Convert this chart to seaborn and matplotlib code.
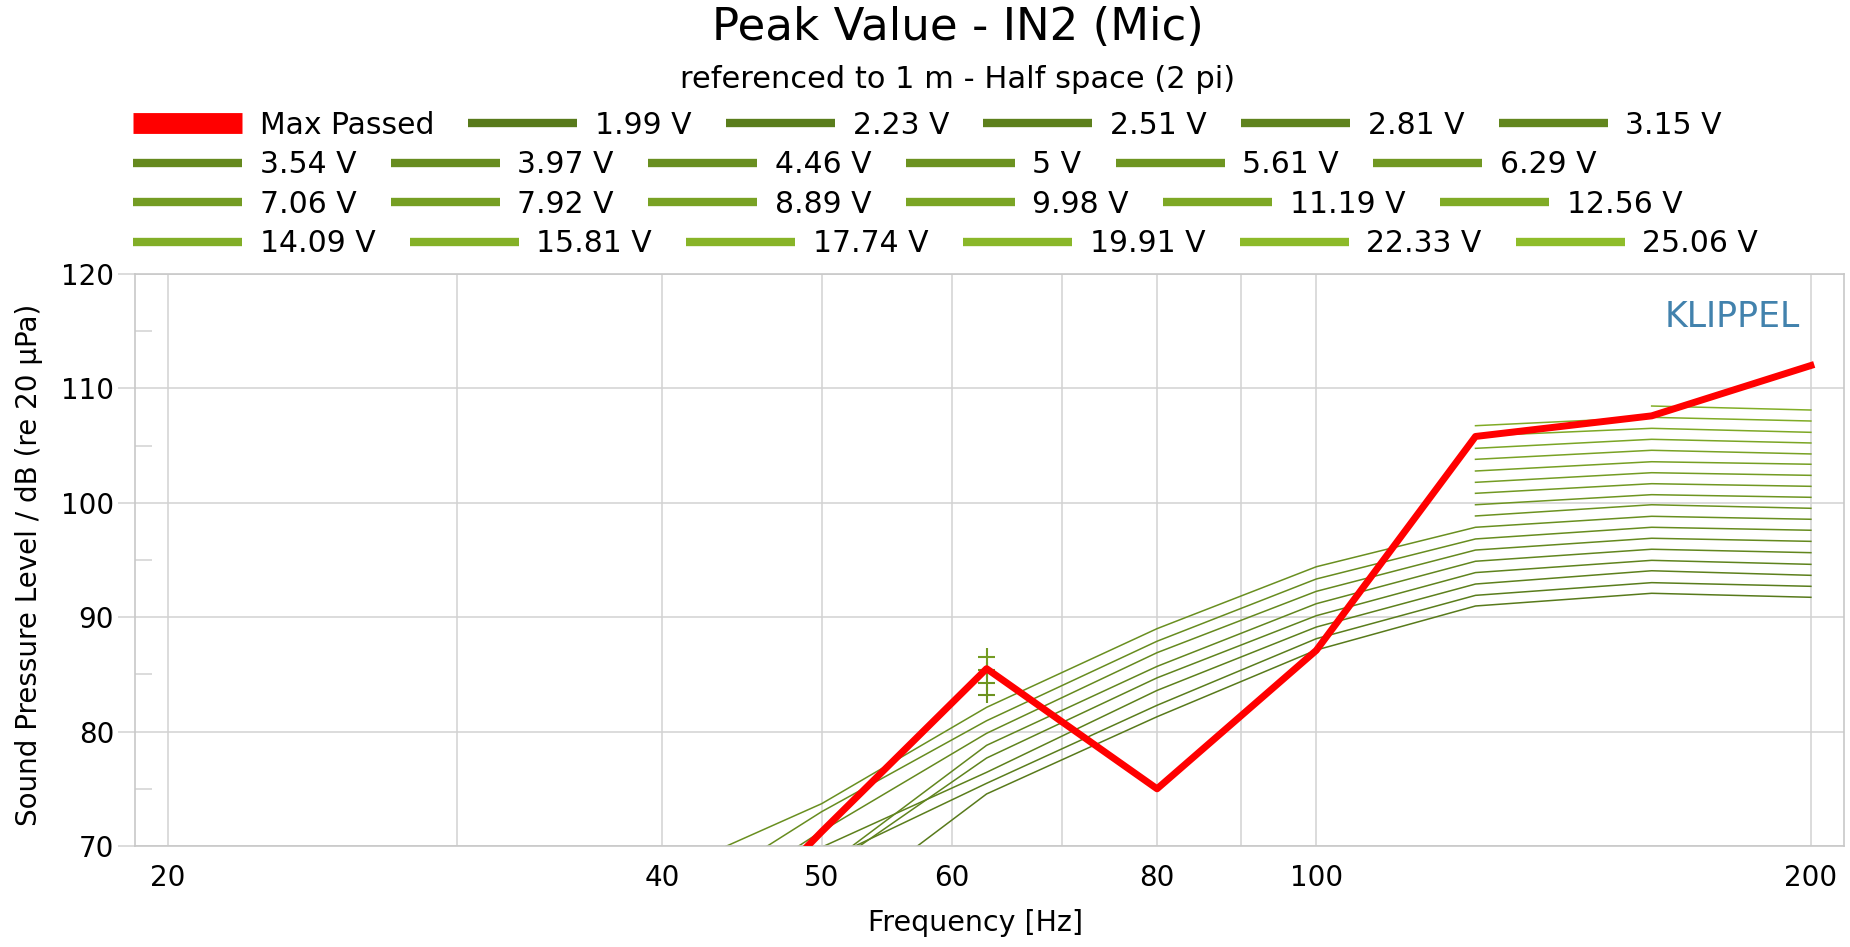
import numpy as np
import pandas as pd
import matplotlib
matplotlib.use('Agg')
import matplotlib.pyplot as plt
import seaborn as sns
from matplotlib.lines import Line2D

nan = np.nan

# 1/3 octave band centres [Hz]
freqs = [40, 50, 63, 80, 100, 125, 160, 200]

max_passed = [57.0, 71.25, 85.5, 75.0, 87.1, 105.8, 107.6, 112.0]

voltages = ['1.99', '2.23', '2.51', '2.81', '3.15', '3.54', '3.97', '4.46', '5', '5.61',
            '6.29', '7.06', '7.92', '8.89', '9.98', '11.19', '12.56', '14.09', '15.81',
            '17.74', '19.91', '22.33', '25.06']

spl_1_99 = [55.0, 63.7, 74.55, 81.3, 87.13, 90.98, 92.09, 91.74]
spl_2_23 = [56.0, 68.6, 75.48, 82.3, 88.12, 91.91, 93.02, 92.70]
spl_2_51 = [58.0, 69.9, 76.44, 83.6, 89.14, 92.90, 94.06, 93.66]
spl_2_81 = [58.0, 67.7, 77.69, 84.7, 90.13, 93.90, 94.97, 94.62]
spl_3_15 = [59.0, 68.0, 78.80, 85.7, 91.18, 94.89, 95.94, 95.64]
spl_3_54 = [62.3, 71.3, 79.85, 86.9, 92.26, 95.87, 96.90, 96.63]
spl_3_97 = [64.2, 73.0, 80.95, 87.9, 93.34, 96.84, 97.86, 97.60]
spl_4_46 = [67.5, 73.7, 82.12, 89.0, 94.41, 97.86, 98.82, 98.56]
spl_5_00 = [nan, nan, 83.20, nan, nan, 98.85, 99.83, 99.52]
spl_5_61 = [nan, nan, 84.27, nan, nan, 99.83, 100.71, 100.48]
spl_6_29 = [nan, nan, 85.38, nan, nan, 100.83, 101.67, 101.44]
spl_7_06 = [nan, nan, 86.55, nan, nan, 101.79, 102.63, 102.40]
spl_7_92 = [nan, nan, nan, nan, nan, 102.78, 103.59, 103.37]
spl_8_89 = [nan, nan, nan, nan, nan, 103.80, 104.59, 104.27]
spl_9_98 = [nan, nan, nan, nan, nan, 104.76, 105.55, 105.23]
spl_11_19 = [nan, nan, nan, nan, nan, 105.84, 106.51, 106.16]
spl_12_56 = [nan, nan, nan, nan, nan, 106.74, 107.47, 107.15]
spl_14_09 = [nan, nan, nan, nan, nan, nan, 108.46, 108.11]
spl_15_81 = [nan] * 8
spl_17_74 = [nan] * 8
spl_19_91 = [nan] * 8
spl_22_33 = [nan] * 8
spl_25_06 = [nan] * 8

series = [spl_1_99, spl_2_23, spl_2_51, spl_2_81, spl_3_15, spl_3_54, spl_3_97, spl_4_46,
          spl_5_00, spl_5_61, spl_6_29, spl_7_06, spl_7_92, spl_8_89, spl_9_98, spl_11_19,
          spl_12_56, spl_14_09, spl_15_81, spl_17_74, spl_19_91, spl_22_33, spl_25_06]

labels = [v + ' V' for v in voltages]
greens = sns.blend_palette(['#587a1b', '#8fbd2a'], len(labels))
pal = dict(zip(labels, greens))

# long table, a new segment wherever a value is missing
rows = []
for lab, vals in zip(labels, series):
    seg = 0
    for f, y in zip(freqs, vals):
        if np.isnan(y):
            seg += 1
            continue
        rows.append((lab, f, y, seg))
df = pd.DataFrame(rows, columns=['voltage', 'freq', 'spl', 'seg'])
n_in_seg = df.groupby(['voltage', 'seg'])['freq'].transform('size')
lines_df = df[n_in_seg > 1]
points_df = df[n_in_seg == 1]

grid_c = '#d2d2d2'
W, H = 1850, 947
fig = plt.figure(figsize=(W / 100, H / 100), dpi=100)
ax = fig.add_axes([135 / W, (H - 846) / H, (1844 - 135) / W, (846 - 274) / H])

sns.lineplot(data=lines_df, x='freq', y='spl', hue='voltage', units='seg', estimator=None,
             palette=pal, linewidth=1.1, legend=False, ax=ax)
sns.scatterplot(data=points_df, x='freq', y='spl', hue='voltage', palette=pal, marker='+',
                s=140, linewidth=1.5, legend=False, ax=ax, zorder=3)
sns.lineplot(x=freqs, y=max_passed, color='red', linewidth=5, ax=ax, zorder=4)

ax.set_xscale('log')
ax.set_xlim(19.1, 209.5)
ax.set_ylim(70, 120)

ax.set_xticks([20, 40, 50, 60, 80, 100, 200])
ax.set_xticklabels(['20', '40', '50', '60', '80', '100', '200'])
ax.set_xticks([30, 70, 90], minor=True)
ax.xaxis.set_minor_formatter(matplotlib.ticker.NullFormatter())
ax.set_yticks(range(70, 121, 10))
ax.set_yticks(range(75, 120, 10), minor=True)

ax.grid(True, which='both', axis='x', color=grid_c, linewidth=1.1)
ax.grid(True, which='major', axis='y', color=grid_c, linewidth=1.1)
ax.set_axisbelow(True)

ax.tick_params(axis='x', which='both', length=0, pad=13, labelsize=20)
ax.tick_params(axis='y', which='major', length=12, width=1.1, color=grid_c, direction='out',
               pad=3, labelsize=20)
ax.tick_params(axis='y', which='minor', length=12, width=1.1, color=grid_c, direction='in')
for s in ax.spines.values():
    s.set_color('#c8c8c8')
    s.set_linewidth(1.2)

ax.set_xlabel('Frequency [Hz]', fontsize=20.5, va='center')
ax.xaxis.set_label_coords((976 - 135) / 1709, (846 - 923) / 572)
ax.set_ylabel('Sound Pressure Level / dB (re 20 µPa)', fontsize=20, va='center')
ax.yaxis.set_label_coords((29 - 135) / 1709, (846 - 565) / 572)

fig.text(958 / W, 1 - 27 / H, 'Peak Value - IN2 (Mic)', ha='center', va='center', fontsize=32.5)
fig.text(958 / W, 1 - 80 / H, 'referenced to 1 m - Half space (2 pi)', ha='center',
         va='center', fontsize=22)
fig.text(1800 / W, 1 - 317 / H, 'KLIPPEL', ha='right', va='center', fontsize=25,
         color='#4282ad')

# legend: four rows, filled left to right
handles = [Line2D([], [], color='red', lw=15, solid_capstyle='butt')]
handles += [Line2D([], [], color=pal[l], lw=6, solid_capstyle='butt') for l in labels]
names = ['Max Passed'] + labels
row_y = [125, 164.5, 204, 243.5]
for r, yc in enumerate(row_y):
    h = handles[r * 6:(r + 1) * 6]
    n = names[r * 6:(r + 1) * 6]
    fig.legend(h, n, loc='center left', bbox_to_anchor=(133 / W, 1 - yc / H), ncol=6,
               frameon=False, fontsize=21.5, handlelength=3.65, handletextpad=0.59,
               columnspacing=1.15, borderpad=0, borderaxespad=0)

fig.savefig('out.png', dpi=100)
